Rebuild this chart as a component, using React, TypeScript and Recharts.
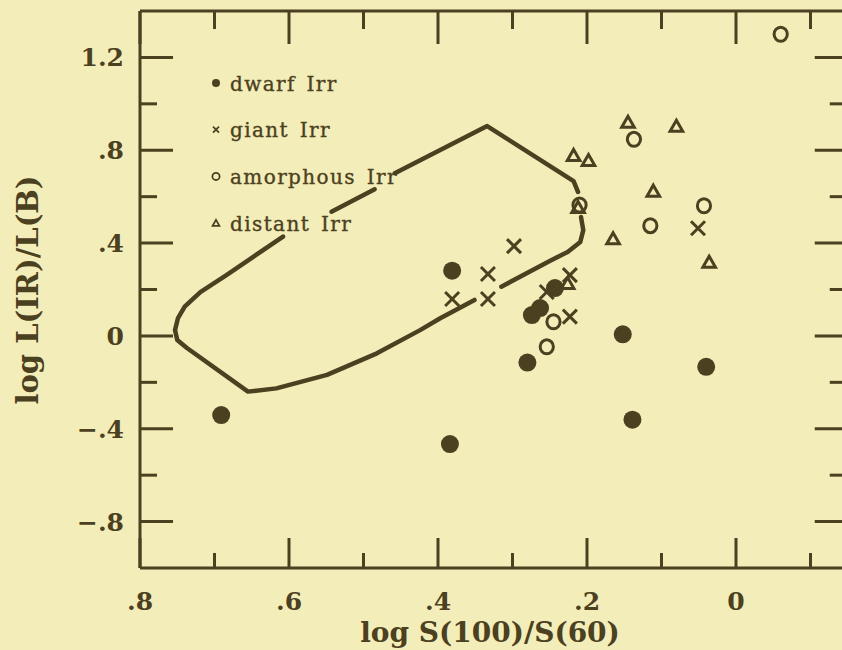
import React from 'react';
import { ScatterChart, Scatter, XAxis, YAxis, ReferenceLine, Legend } from 'recharts';

const INK = '#4b4020';
const BG = '#f3edb9';
const SERIF = '"DejaVu Serif", "Liberation Serif", serif';

// ---- axes ----
const xDomain = [-0.15, 0.8];
const yDomain = [-1.0, 1.4];
const xTicks = [0.8, 0.7, 0.6, 0.5, 0.4, 0.3, 0.2, 0.1, 0, -0.1];
const xTickLabels = ['.8', '', '.6', '', '.4', '', '.2', '', '0', ''];
const yTicks = [1.2, 1.0, 0.8, 0.6, 0.4, 0.2, 0, -0.2, -0.4, -0.6, -0.8];
const yTickLabels = ['1.2', '', '.8', '', '.4', '', '0', '', '\u2212.4', '', '\u2212.8'];
const xTitle = 'log S(100)/S(60)';
const yTitle = 'log L(IR)/L(B)';

// ---- series ----
const legendLabels = ['dwarf Irr', 'giant Irr', 'amorphous Irr', 'distant Irr'];

const dwarfX = [0.691, 0.381, 0.384, 0.280, 0.152, 0.139, 0.040, 0.274, 0.263, 0.243];
const dwarfY = [-0.341, 0.281, -0.466, -0.115, 0.007, -0.361, -0.133, 0.090, 0.120, 0.206];

const giantX = [0.298, 0.333, 0.381, 0.333, 0.223, 0.051, 0.223, 0.254];
const giantY = [0.387, 0.267, 0.159, 0.159, 0.262, 0.464, 0.083, 0.189];

const amorphX = [-0.060, 0.137, 0.210, 0.115, 0.043, 0.245, 0.254];
const amorphY = [1.300, 0.847, 0.564, 0.475, 0.561, 0.061, -0.047];

const distantX = [0.145, 0.080, 0.218, 0.198, 0.111, 0.212, 0.165, 0.036, 0.226];
const distantY = [0.923, 0.906, 0.780, 0.758, 0.626, 0.555, 0.421, 0.320, 0.228];

// ---- boundary curve (drawn in pieces, with gaps as in the original) ----
const curveAX = [0.351, 0.397, 0.424, 0.482, 0.549, 0.617, 0.655, 0.737, 0.750, 0.753, 0.749, 0.740, 0.719, 0.684, 0.608];
const curveAY = [0.155, 0.076, 0.025, -0.075, -0.168, -0.226, -0.240, -0.052, -0.018, 0.025, 0.077, 0.126, 0.189, 0.262, 0.428];
const curveBX = [0.543, 0.485];
const curveBY = [0.535, 0.632];
const curveCX = [0.458, 0.334, 0.218, 0.212];
const curveCY = [0.701, 0.904, 0.667, 0.620];
const curveDX = [0.208, 0.205, 0.209, 0.226, 0.250, 0.315];
const curveDY = [0.512, 0.456, 0.405, 0.362, 0.323, 0.212];

const zip = (xs: number[], ys: number[]) => xs.map((x, i) => ({ x, y: ys[i] }));

const dwarf = zip(dwarfX, dwarfY);
const giant = zip(giantX, giantY);
const amorph = zip(amorphX, amorphY);
const distant = zip(distantX, distantY);
const curveSegments = [
  zip(curveAX, curveAY),
  zip(curveBX, curveBY),
  zip(curveCX, curveCY),
  zip(curveDX, curveDY),
];

// ---- layout ----
const CHART_W = 850;
const CHART_H = 650;
const PLOT_LEFT = 140;
const PLOT_TOP = 11;
const PLOT_BOTTOM = 568;
const PLOT_RIGHT = 847.75;

// ---- shapes ----
const Dot = (p: any) => <circle cx={p.cx} cy={p.cy} r={9} fill={INK} />;
const Cross = (p: any) => {
  const s = 7;
  return (
    <g stroke={INK} strokeWidth={3} strokeLinecap="butt">
      <line x1={p.cx - s} y1={p.cy - s} x2={p.cx + s} y2={p.cy + s} />
      <line x1={p.cx - s} y1={p.cy + s} x2={p.cx + s} y2={p.cy - s} />
    </g>
  );
};
const Ring = (p: any) => (
  <ellipse cx={p.cx} cy={p.cy} rx={6.6} ry={7} fill="none" stroke={INK} strokeWidth={3} />
);
const Tri = (p: any) => (
  <path
    d={`M${p.cx},${p.cy - 5.5} L${p.cx + 6.3},${p.cy + 5.5} L${p.cx - 6.3},${p.cy + 5.5} Z`}
    fill="none"
    stroke={INK}
    strokeWidth={3}
    strokeLinejoin="miter"
  />
);
const NoShape = () => <g />;

const LegendSymbol = ({ kind, cx, cy }: { kind: number; cx: number; cy: number }) => {
  if (kind === 0) return <circle cx={cx} cy={cy} r={4} fill={INK} />;
  if (kind === 1)
    return (
      <g stroke={INK} strokeWidth={1.8}>
        <line x1={cx - 3} y1={cy - 3} x2={cx + 3} y2={cy + 3} />
        <line x1={cx - 3} y1={cy + 3} x2={cx + 3} y2={cy - 3} />
      </g>
    );
  if (kind === 2) return <circle cx={cx} cy={cy} r={3.6} fill="none" stroke={INK} strokeWidth={1.8} />;
  return (
    <path
      d={`M${cx},${cy - 3.2} L${cx + 3.4},${cy + 2.8} L${cx - 3.4},${cy + 2.8} Z`}
      fill="none"
      stroke={INK}
      strokeWidth={1.8}
    />
  );
};

const LegendBox = () => (
  <svg width={240} height={180} style={{ display: 'block', overflow: 'visible' }}>
    {legendLabels.map((lab, i) => {
      const cy = 17 + i * 46.7;
      return (
        <g key={lab}>
          <LegendSymbol kind={i} cx={16} cy={cy} />
          <text
            x={30}
            y={cy + 7.5}
            fontFamily={SERIF}
            fontSize={20}
            letterSpacing={1.4}
            wordSpacing={3}
            fill={INK}
            stroke={INK}
            strokeWidth={0.35}
          >
            {lab}
          </text>
        </g>
      );
    })}
  </svg>
);

// ---- ticks ----
const findIdx = (arr: number[], v: number) => arr.findIndex((t) => Math.abs(t - v) < 1e-9);

const XTick = (props: any) => {
  const { x, payload } = props;
  const i = findIdx(xTicks, payload.value);
  const label = i >= 0 ? xTickLabels[i] : '';
  const major = label !== '';
  return (
    <g>
      <line x1={x} x2={x} y1={PLOT_BOTTOM} y2={PLOT_BOTTOM - (major ? 30 : 15)} stroke={INK} strokeWidth={3} />
      <line x1={x} x2={x} y1={PLOT_TOP} y2={PLOT_TOP + (major ? 33 : 18)} stroke={INK} strokeWidth={3} />
      {major && (
        <text x={x} y={610} textAnchor="middle" fontFamily={SERIF} fontWeight="bold" fontSize={25} fill={INK}>
          {label}
        </text>
      )}
    </g>
  );
};

const YTick = (props: any) => {
  const { y, payload } = props;
  const i = findIdx(yTicks, payload.value);
  const label = i >= 0 ? yTickLabels[i] : '';
  const major = label !== '';
  return (
    <g>
      <line x1={PLOT_LEFT} x2={PLOT_LEFT + (major ? 33 : 17)} y1={y} y2={y} stroke={INK} strokeWidth={3} />
      <line x1={PLOT_RIGHT} x2={PLOT_RIGHT - (major ? 33 : 18)} y1={y} y2={y} stroke={INK} strokeWidth={3} />
      {major && (
        <text
          x={124}
          y={y}
          dy="0.36em"
          textAnchor="end"
          fontFamily={SERIF}
          fontWeight="bold"
          fontSize={25}
          fill={INK}
        >
          {label}
        </text>
      )}
    </g>
  );
};

const renderXTitle = () => (
  <text x={490} y={642} textAnchor="middle" fontFamily={SERIF} fontWeight="bold" fontSize={28} fill={INK}>
    {xTitle}
  </text>
);
const renderYTitle = () => (
  <text
    x={38}
    y={290}
    transform="rotate(-90, 38, 290)"
    textAnchor="middle"
    fontFamily={SERIF}
    fontWeight="bold"
    fontSize={29}
    fill={INK}
  >
    {yTitle}
  </text>
);

export default function App() {
  return (
    <div
      style={{
        position: 'absolute',
        left: 0,
        top: 0,
        width: 842,
        height: 650,
        overflow: 'hidden',
        background: BG,
      }}
    >
      <ScatterChart
        width={CHART_W}
        height={CHART_H}
        margin={{ top: PLOT_TOP, right: CHART_W - PLOT_RIGHT, bottom: 0, left: 0 }}
      >
        <XAxis
          type="number"
          dataKey="x"
          domain={xDomain}
          reversed
          allowDataOverflow
          ticks={xTicks}
          interval={0}
          tick={<XTick />}
          tickLine={false}
          axisLine={{ stroke: INK, strokeWidth: 3 }}
          height={CHART_H - PLOT_BOTTOM}
          label={renderXTitle}
        />
        <YAxis
          type="number"
          dataKey="y"
          domain={yDomain}
          allowDataOverflow
          ticks={yTicks}
          interval={0}
          tick={<YTick />}
          tickLine={false}
          axisLine={{ stroke: INK, strokeWidth: 3 }}
          width={PLOT_LEFT}
          label={renderYTitle}
        />
        <ReferenceLine y={yDomain[1]} stroke={INK} strokeWidth={3} ifOverflow="visible" />
        <ReferenceLine x={xDomain[0]} stroke={INK} strokeWidth={3} ifOverflow="visible" />
        {curveSegments.map((seg, i) => (
          <Scatter
            key={`curve-${i}`}
            data={seg}
            line={{ stroke: INK, strokeWidth: 4.5, fill: 'none', strokeLinejoin: 'round', strokeLinecap: 'round' }}
            shape={<NoShape />}
            legendType="none"
            isAnimationActive={false}
          />
        ))}
        <Scatter name={legendLabels[0]} data={dwarf} shape={<Dot />} isAnimationActive={false} />
        <Scatter name={legendLabels[1]} data={giant} shape={<Cross />} isAnimationActive={false} />
        <Scatter name={legendLabels[2]} data={amorph} shape={<Ring />} isAnimationActive={false} />
        <Scatter name={legendLabels[3]} data={distant} shape={<Tri />} isAnimationActive={false} />
        <Legend
          layout="vertical"
          align="center"
          verticalAlign="middle"
          content={() => <LegendBox />}
          wrapperStyle={{ left: 200, top: 66, width: 240, height: 180 }}
        />
      </ScatterChart>
    </div>
  );
}
